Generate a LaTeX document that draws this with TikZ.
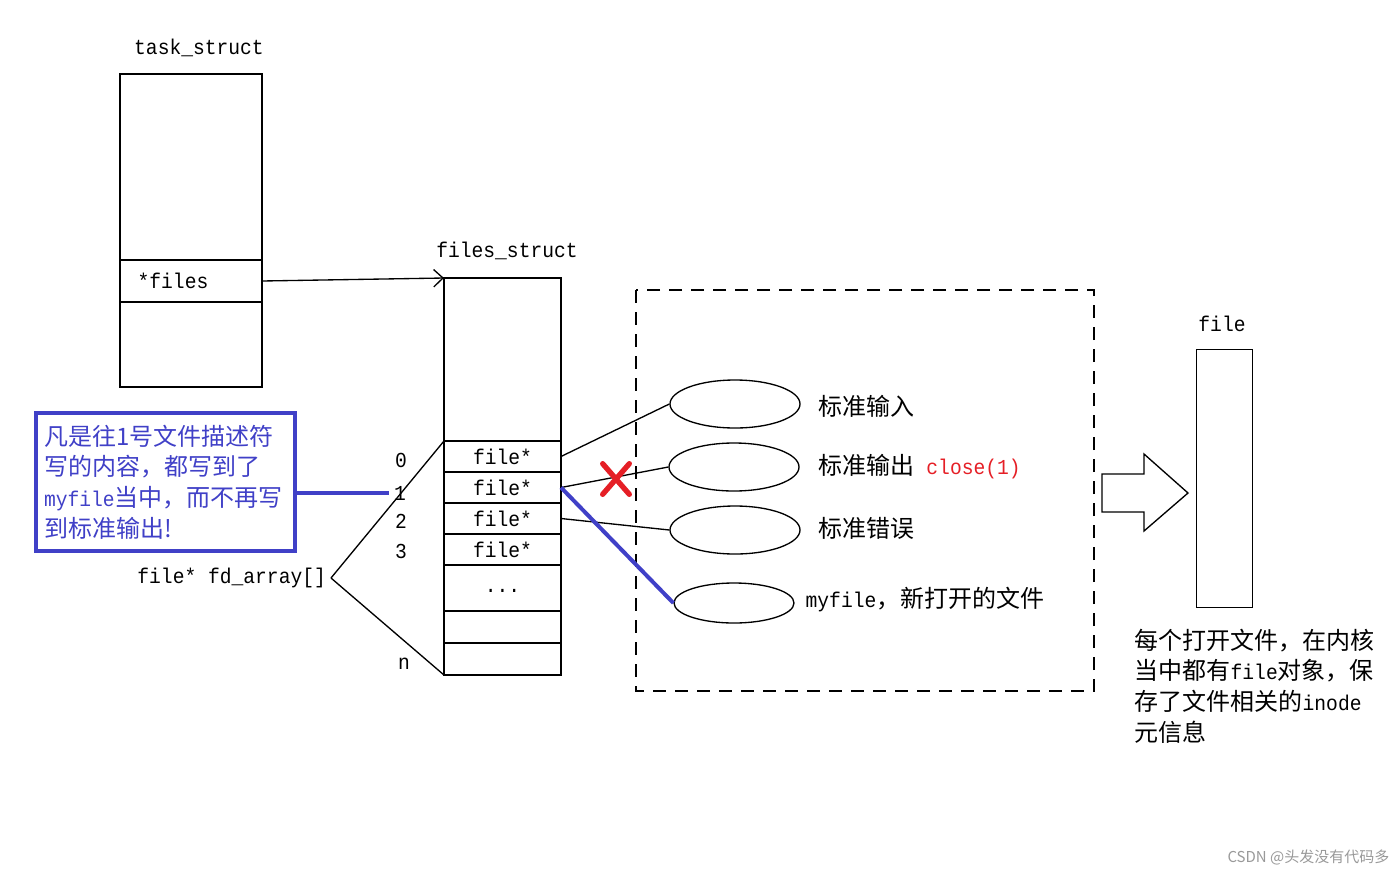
\documentclass[tikz,border=0pt]{standalone}
\usepackage{fontspec}
\setmainfont{Liberation Mono}[FakeStretch=0.92]
\newfontfamily\zh[Scale=1.125]{Noto Sans CJK SC}
\usetikzlibrary{positioning,shapes.geometric,shapes.misc,arrows.meta}
\definecolor{NoteClr}{rgb}{0.25,0.25,0.78}
\definecolor{CrossClr}{rgb}{0.9,0.12,0.15}
\definecolor{MarkClr}{rgb}{0.6,0.6,0.6}

\begin{document}
\begin{tikzpicture}[x=0.75pt,y=-0.75pt,
  font=\fontsize{16}{23}\selectfont,line width=1pt,
  cell/.style={draw,inner sep=0pt,outer sep=0pt,minimum width=87.75pt},
  tcell/.style={draw,inner sep=0pt,outer sep=0pt,minimum width=106.5pt},
  fdrow/.style={cell,minimum height=23.25pt,below=0pt of #1},
  hole/.style={draw,ellipse,inner sep=0pt,minimum width=97.5pt,minimum height=36pt},
  txt/.style={inner sep=0pt,anchor=west}]
\useasboundingbox (0,0) rectangle (1400,872);

% task_struct
\node (tname) at (199,48) {task\_struct};
\node[tcell,minimum height=139.5pt,anchor=north west] (ttop) at (120,74) {};
\node[tcell,minimum height=31.5pt,below=0pt of ttop,align=left,text width=80pt,inner xsep=13pt] (tfiles) {\raisebox{-4pt}{*files}};
\node[tcell,minimum height=63.75pt,below=0pt of tfiles] (tbot) {};

% files_struct
\node (fname) at (507,251) {files\_struct};
\node[cell,minimum height=122.25pt,anchor=north west] (fs) at (444,278) {};
\node[fdrow=fs] (fd0) {file*};
\node[fdrow=fd0] (fd1) {file*};
\node[fdrow=fd1] (fd2) {file*};
\node[fdrow=fd2] (fd3) {file*};
\node[fdrow=fd3,minimum height=34.5pt] (fdd) {\raisebox{-6pt}{...}};
\node[fdrow=fdd,minimum height=24pt] (fd4) {};
\node[fdrow=fd4,minimum height=24pt] (fdn) {};

\draw[-{Straight Barb[length=7pt,width=13pt]}] (tfiles.east) -- (fs.north west);

% fd_array
\node (i0) at (401,460) {0};
\node (i1) at (400,493) {1};
\node (i2) at (401,521) {2};
\node (i3) at (401,551) {3};
\node (in) at (404,664) {n};
\node[anchor=east] (arr) at (331,578) {file* fd\_array[]};
\draw (arr.east) -- (fd0.north west);
\draw (arr.east) -- (fdn.south west);

% note
\node[draw=NoteClr,line width=3pt,text=NoteClr,align=left,text width=182pt,inner xsep=6pt,
  minimum height=103.5pt,anchor=north west] (note) at (34,411)
  {{\zh 凡是往1号文件描述符}\\{\zh 写的内容，都写到了}\\myfile{\zh 当中，而不再写}\\{\zh 到标准输出!}};
\draw[NoteClr,line width=3pt] (note.east |- i1) -- (i1.west);

% open files
\draw[dashed,dash pattern=on 10pt off 6.5pt] (636,290) rectangle (1094,691);
\node[hole] (e0) at (735,404) {};
\node[hole] (e1) at (734,467) {};
\node[hole] (e2) at (735,530) {};
\node[hole,minimum width=90pt,minimum height=30pt] (e3) at (734,603) {};
\node[txt] (l0) at (818,406) {\zh 标准输入};
\node[txt] (l1) at (818,467) {{\zh 标准输出} \textcolor{CrossClr}{close(1)}};
\node[txt] (l2) at (818,528) {\zh 标准错误};
\node[txt] (l3) at (805,600) {myfile{\zh ，新打开的文件}};

\draw (fd0.east) -- (e0.west);
\draw (fd1.east) -- (e1.west);
\draw (fd2.east) -- (e2.west);
\draw[NoteClr,line width=3pt] (fd1.east) -- (e3.west);
\node[cross out,draw=CrossClr,line width=4pt,line cap=round,minimum width=16pt,minimum height=19pt] (cut) at (616,479) {};

% file
\draw (1102,474) -- (1144,474) -- (1144,454) -- (1188,493) -- (1144,531) -- (1144,512) -- (1102,512) -- cycle;
\node (flabel) at (1222,324) {file};
\node[draw,inner sep=0pt,minimum width=42pt,minimum height=193.5pt,anchor=north west] (fbox) at (1196,349) {};
\node[align=left,anchor=north west,inner sep=0pt] (desc) at (1134,628)
  {{\zh 每个打开文件，在内核}\\{\zh 当中都有}file{\zh 对象，保}\\{\zh 存了文件相关的}inode\\{\zh 元信息}};

\node[text=MarkClr,anchor=east,inner sep=0pt,font=\fontsize{10}{11}\selectfont] (mark) at (1390,857) {\zh CSDN @头发没有代码多};
\end{tikzpicture}
\end{document}
